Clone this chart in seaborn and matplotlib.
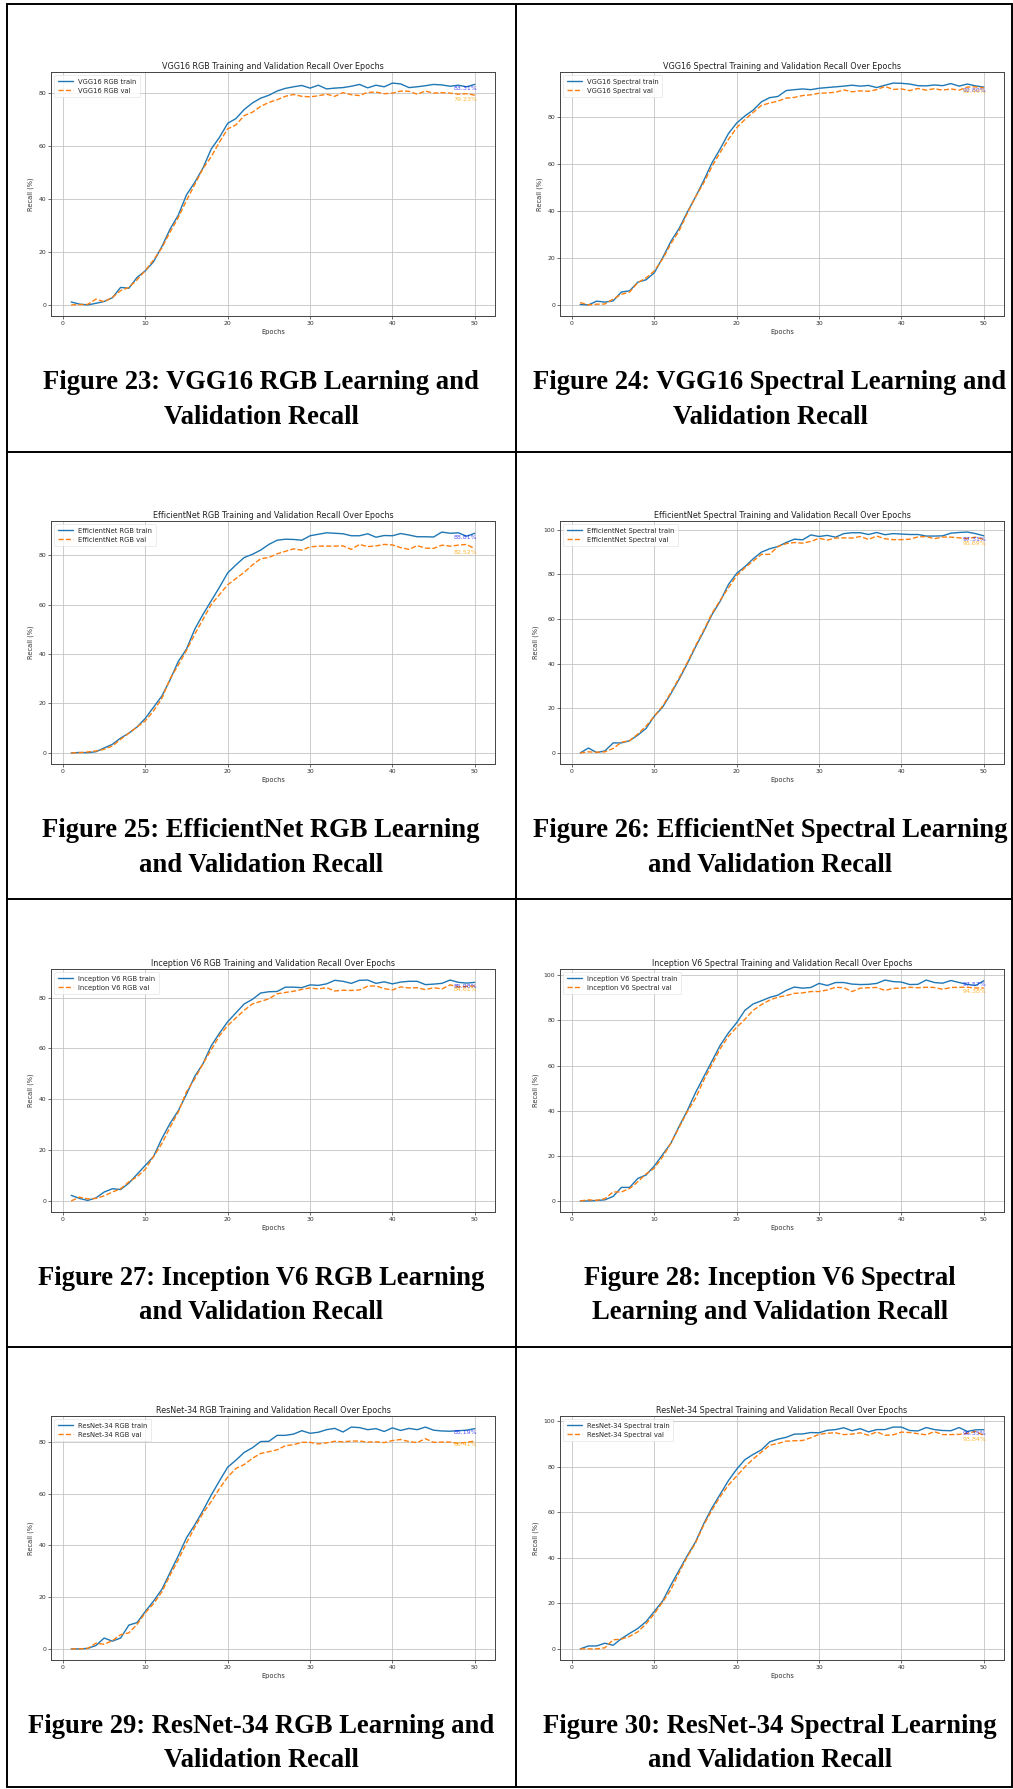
import matplotlib
matplotlib.use("Agg")
import matplotlib.pyplot as plt
import seaborn as sns
from matplotlib.lines import Line2D

W, H = 1013, 1789

epochs = list(range(1, 51))

# ---------------- DATA ----------------
vgg_rgb_train = [1.1, 0.3, 0.0, 0.6, 1.3, 2.7, 6.6, 6.3, 10.4, 12.9,
                 16.3, 22.0, 28.6, 33.9, 41.6, 46.3, 51.7, 58.9, 63.3, 68.6,
                 70.4, 73.8, 76.3, 78.1, 79.2, 80.8, 81.8, 82.4, 82.9, 81.9,
                 83.0, 81.6, 81.9, 82.1, 82.6, 83.3, 82.0, 83.0, 82.4, 83.8,
                 83.5, 82.1, 82.4, 82.8, 83.3, 83.1, 82.6, 83.0, 82.4, 83.31]
vgg_rgb_val = [0.0, 0.1, 0.2, 2.2, 1.2, 2.8, 5.4, 6.6, 9.5, 13.0,
               17.0, 21.5, 27.5, 33.0, 39.5, 45.5, 51.5, 56.0, 61.5, 66.5,
               68.0, 71.5, 72.8, 75.0, 76.5, 77.5, 78.8, 79.5, 78.8, 78.6,
               79.0, 79.6, 78.8, 80.2, 79.4, 79.1, 80.3, 80.4, 79.8, 80.0,
               80.8, 80.7, 79.6, 80.8, 80.0, 80.2, 80.0, 79.6, 79.8, 79.23]

vgg_spec_train = [0.2, 0.0, 1.6, 1.2, 1.7, 5.5, 6.0, 9.7, 10.7, 13.7,
                  20.0, 27.0, 32.5, 39.5, 46.0, 53.0, 60.5, 66.5, 73.0, 77.5,
                  80.5, 83.0, 86.5, 88.3, 88.8, 91.3, 91.7, 92.0, 91.7, 92.3,
                  92.6, 92.9, 93.2, 93.6, 93.2, 93.5, 92.6, 93.6, 94.5, 94.4,
                  94.1, 93.4, 93.3, 93.7, 93.4, 94.3, 93.2, 94.1, 93.3, 92.80]
vgg_spec_val = [1.0, 0.0, 0.3, 0.4, 2.5, 4.5, 5.5, 9.5, 11.5, 14.5,
                19.5, 26.0, 31.5, 39.0, 46.0, 52.0, 59.0, 65.0, 70.5, 75.5,
                79.0, 82.0, 85.0, 86.0, 86.8, 88.1, 88.4, 89.2, 89.5, 90.2,
                90.3, 90.6, 91.6, 90.8, 91.2, 91.0, 91.7, 93.1, 91.8, 92.0,
                91.3, 92.2, 91.5, 92.1, 91.5, 92.0, 91.5, 92.8, 92.9, 92.46]

eff_rgb_train = [0.0, 0.2, 0.1, 0.5, 2.0, 3.5, 6.0, 8.0, 10.5, 14.0,
                 18.5, 23.0, 29.5, 37.0, 42.0, 50.0, 56.0, 61.5, 67.0, 72.8,
                 76.0, 79.0, 80.3, 82.0, 84.3, 86.0, 86.4, 86.3, 86.0, 87.8,
                 88.4, 89.0, 88.8, 88.6, 87.8, 87.8, 88.6, 87.2, 87.9, 87.8,
                 88.7, 88.1, 87.4, 87.4, 87.3, 89.3, 88.8, 89.0, 87.6, 88.81]
eff_rgb_val = [0.0, 0.1, 0.4, 0.8, 1.5, 2.8, 5.5, 8.0, 10.5, 13.0,
               17.0, 22.0, 30.0, 35.5, 41.5, 48.0, 54.0, 60.0, 64.0, 68.0,
               70.5, 73.0, 76.0, 78.5, 79.0, 80.5, 81.5, 82.5, 82.0, 83.3,
               83.6, 83.6, 83.6, 83.7, 82.3, 84.3, 83.4, 83.7, 84.3, 84.1,
               83.0, 82.3, 83.8, 82.8, 82.7, 84.0, 83.6, 84.0, 84.3, 82.52]

eff_spec_train = [0.0, 2.2, 0.2, 0.9, 4.5, 4.5, 5.5, 8.0, 11.0, 16.5,
                  20.5, 26.5, 33.0, 40.0, 47.5, 54.5, 62.0, 68.0, 75.5, 80.5,
                  83.5, 87.0, 90.0, 91.5, 92.5, 94.3, 95.8, 95.5, 97.7, 97.0,
                  97.5, 96.7, 98.3, 98.7, 98.7, 97.9, 98.8, 97.8, 98.3, 98.1,
                  97.9, 97.9, 97.2, 97.2, 97.3, 98.5, 98.8, 99.0, 98.3, 97.31]
eff_spec_val = [0.0, 0.5, 0.3, 0.5, 2.0, 4.8, 5.5, 8.5, 12.0, 16.5,
                21.0, 27.0, 33.5, 40.5, 48.0, 55.0, 62.5, 68.5, 74.0, 79.5,
                83.0, 86.0, 89.0, 89.0, 92.5, 93.8, 94.3, 94.0, 94.8, 96.2,
                95.4, 96.3, 96.4, 96.3, 97.0, 95.7, 97.2, 96.0, 95.6, 95.6,
                95.8, 96.8, 97.0, 96.0, 96.8, 96.7, 96.4, 96.1, 96.7, 95.69]

inc_rgb_train = [2.2, 1.0, 0.2, 1.2, 3.5, 4.8, 4.5, 7.0, 10.5, 14.0,
                 17.5, 24.5, 30.5, 35.5, 42.0, 49.0, 54.0, 61.0, 66.0, 70.5,
                 74.0, 77.5, 79.3, 81.8, 82.3, 82.4, 84.1, 84.1, 83.9, 85.0,
                 84.8, 85.4, 86.8, 86.4, 85.6, 86.8, 86.9, 85.6, 86.2, 85.4,
                 86.1, 86.4, 86.4, 85.1, 85.3, 85.6, 86.9, 86.0, 85.7, 85.98]
inc_rgb_val = [0.0, 1.5, 0.8, 1.0, 2.0, 3.5, 4.8, 7.5, 9.5, 12.5,
               17.5, 22.5, 29.0, 35.0, 43.0, 48.0, 54.0, 59.5, 65.0, 69.0,
               72.0, 75.0, 77.5, 78.5, 79.5, 81.5, 82.0, 82.5, 83.2, 83.8,
               83.4, 83.9, 82.6, 82.9, 82.8, 83.0, 84.5, 84.6, 83.5, 83.0,
               84.2, 83.8, 83.9, 83.1, 83.9, 83.4, 85.0, 84.2, 84.4, 84.61]

inc_spec_train = [0.0, 0.0, 0.2, 0.5, 2.0, 6.0, 6.0, 10.0, 11.5, 15.5,
                  20.5, 25.5, 33.0, 40.0, 48.0, 55.0, 62.0, 69.0, 74.5, 79.0,
                  84.5, 87.3, 88.7, 90.2, 91.2, 93.3, 94.8, 94.3, 94.6, 96.4,
                  95.5, 96.8, 96.8, 96.1, 95.9, 96.0, 96.4, 97.9, 97.2, 97.0,
                  95.9, 96.0, 97.9, 96.8, 96.5, 97.7, 96.8, 96.0, 95.5, 97.57]
inc_spec_val = [0.0, 0.5, 0.3, 1.0, 4.0, 4.0, 5.5, 8.5, 12.0, 14.5,
                19.5, 25.5, 32.5, 39.5, 45.5, 53.5, 60.5, 67.5, 73.0, 77.0,
                80.5, 84.5, 87.0, 89.0, 90.3, 91.0, 92.0, 92.2, 92.8, 92.8,
                93.5, 94.7, 94.5, 92.8, 94.3, 94.5, 94.6, 93.3, 94.2, 94.3,
                94.7, 94.5, 94.7, 94.6, 93.8, 94.6, 94.7, 94.7, 94.4, 94.38]

res_rgb_train = [0.0, 0.0, 0.2, 1.3, 4.2, 3.0, 4.2, 9.2, 10.2, 14.5,
                 18.5, 23.0, 29.5, 36.0, 43.0, 48.0, 53.5, 59.5, 65.0, 70.3,
                 73.0, 76.0, 77.8, 80.2, 80.3, 82.6, 82.6, 83.1, 84.4, 83.4,
                 83.8, 84.8, 85.3, 83.9, 85.8, 85.6, 84.8, 85.2, 84.1, 85.5,
                 84.5, 85.3, 84.8, 85.8, 84.6, 84.3, 84.2, 84.4, 84.6, 85.19]
res_rgb_val = [0.0, 0.0, 0.2, 2.2, 1.8, 3.2, 5.5, 6.2, 9.5, 14.0,
               17.5, 22.0, 28.5, 34.5, 41.0, 47.0, 52.5, 57.0, 62.0, 66.5,
               69.8, 71.3, 73.7, 75.6, 76.3, 77.0, 78.6, 79.0, 79.9, 79.9,
               79.3, 79.7, 80.3, 80.1, 80.4, 80.4, 80.0, 80.1, 79.8, 80.6,
               81.0, 80.2, 79.8, 81.3, 79.9, 80.0, 80.0, 79.5, 79.9, 80.41]

res_spec_train = [0.0, 1.3, 1.3, 2.5, 1.6, 4.5, 6.8, 9.0, 12.0, 16.5,
                  21.0, 28.0, 34.5, 41.0, 47.0, 55.0, 62.0, 68.0, 74.0, 79.0,
                  83.2, 85.5, 87.5, 91.0, 92.2, 93.0, 94.4, 94.5, 95.1, 95.0,
                  96.1, 96.4, 97.2, 95.9, 96.8, 95.4, 96.4, 96.4, 97.5, 97.5,
                  96.0, 95.8, 97.3, 96.4, 96.0, 95.9, 97.3, 95.6, 96.3, 96.35]
res_spec_val = [0.0, 0.0, 0.0, 0.5, 4.0, 4.3, 5.5, 7.5, 11.0, 15.5,
                20.5, 26.0, 33.5, 40.5, 46.5, 54.5, 61.0, 67.0, 72.0, 76.0,
                80.0, 83.5, 86.5, 89.5, 90.3, 91.3, 91.5, 91.6, 92.8, 94.3,
                94.8, 95.0, 94.2, 94.4, 95.0, 93.9, 95.4, 93.9, 94.1, 95.3,
                95.1, 94.6, 94.1, 95.5, 94.2, 94.2, 94.3, 94.8, 95.6, 93.84]

model_names = ["VGG16 RGB", "VGG16 Spectral",
               "EfficientNet RGB", "EfficientNet Spectral",
               "Inception V6 RGB", "Inception V6 Spectral",
               "ResNet-34 RGB", "ResNet-34 Spectral"]
train_series = [vgg_rgb_train, vgg_spec_train, eff_rgb_train, eff_spec_train,
                inc_rgb_train, inc_spec_train, res_rgb_train, res_spec_train]
val_series = [vgg_rgb_val, vgg_spec_val, eff_rgb_val, eff_spec_val,
              inc_rgb_val, inc_spec_val, res_rgb_val, res_spec_val]
captions = [
    ("Figure 23: VGG16 RGB Learning and", "Validation Recall"),
    ("Figure 24: VGG16 Spectral Learning and", "Validation Recall"),
    ("Figure 25: EfficientNet RGB Learning", "and Validation Recall"),
    ("Figure 26: EfficientNet Spectral Learning", "and Validation Recall"),
    ("Figure 27: Inception V6 RGB Learning", "and Validation Recall"),
    ("Figure 28: Inception V6 Spectral", "Learning and Validation Recall"),
    ("Figure 29: ResNet-34 RGB Learning and", "Validation Recall"),
    ("Figure 30: ResNet-34 Spectral Learning", "and Validation Recall"),
]

# ---------------- LAYOUT (pixels from top-left) ----------------
col_x = [(51, 495), (560, 1004)]
row_y = [(72, 316), (521, 764), (969, 1212), (1416, 1660)]
cap_x = [261, 770]
cap_base = [(389, 424), (837, 872), (1285, 1319), (1733, 1767)]
table_x = [7, 516, 1012]
table_y = [4, 452, 899, 1347, 1787]

sns.set_theme(style="ticks")
plt.rcParams["font.family"] = ["DejaVu Sans"]

fig = plt.figure(figsize=(W / 100, H / 100), dpi=100)
fig.patch.set_facecolor("white")


def fx(x):
    return x / W


def fy(y):
    return 1 - y / H


for i, name in enumerate(model_names):
    r, c = divmod(i, 2)
    x0, x1 = col_x[c]
    y0, y1 = row_y[r]
    ax = fig.add_axes([fx(x0), fy(y1), fx(x1) - fx(x0), fy(y0) - fy(y1)])

    tr = train_series[i]
    va = val_series[i]
    sns.lineplot(x=epochs, y=tr, ax=ax, color="#1f77b4", lw=1.0,
                 label=f"{name} train")
    sns.lineplot(x=epochs, y=va, ax=ax, color="#ff7f0e", lw=1.0,
                 linestyle="--", label=f"{name} val")

    ax.annotate(f"{tr[-1]:.2f}%", (epochs[-1], tr[-1]), xytext=(2, -1),
                textcoords="offset points", ha="right", va="top",
                color="blue", fontsize=4.5, alpha=0.7)
    ax.annotate(f"{va[-1]:.2f}%", (epochs[-1], va[-1]), xytext=(2, -1),
                textcoords="offset points", ha="right", va="top",
                color="orange", fontsize=4.5, alpha=0.8)

    ax.set_title(f"{name} Training and Validation Recall Over Epochs",
                 fontsize=5.8, pad=2.5, color="#222222")
    ax.set_xlabel("Epochs", fontsize=4.8, labelpad=2, color="#333333")
    ax.set_ylabel("Recall (%)", fontsize=4.8, labelpad=3, color="#333333")
    ax.set_xticks([0, 10, 20, 30, 40, 50])
    ax.tick_params(labelsize=4.4, length=2, width=0.5, pad=1.5,
                   colors="#333333")
    ax.grid(True, color="#c4c4c4", lw=0.6)
    for s in ax.spines.values():
        s.set_visible(True)
        s.set_linewidth(0.7)
        s.set_color("#444444")
    leg = ax.legend(loc="upper left", fontsize=4.9, frameon=True,
                    handlelength=2.2, borderpad=0.5, labelspacing=0.4,
                    borderaxespad=0.5)
    leg.get_frame().set_edgecolor("#dddddd")
    leg.get_frame().set_linewidth(0.5)

    cx = cap_x[c]
    for line, yb in zip(captions[i], cap_base[r]):
        fig.text(fx(cx), fy(yb), line, ha="center", va="baseline",
                 fontsize=19.2, fontweight="bold", family="Liberation Serif",
                 color="black")

# table borders
for x in table_x:
    fig.add_artist(Line2D([fx(x), fx(x)], [fy(table_y[0]), fy(table_y[-1])],
                          transform=fig.transFigure, color="black", lw=1.4))
for y in table_y:
    fig.add_artist(Line2D([fx(table_x[0]), fx(table_x[-1])], [fy(y), fy(y)],
                          transform=fig.transFigure, color="black", lw=1.4))

fig.savefig("out.png", dpi=100, facecolor="white")
